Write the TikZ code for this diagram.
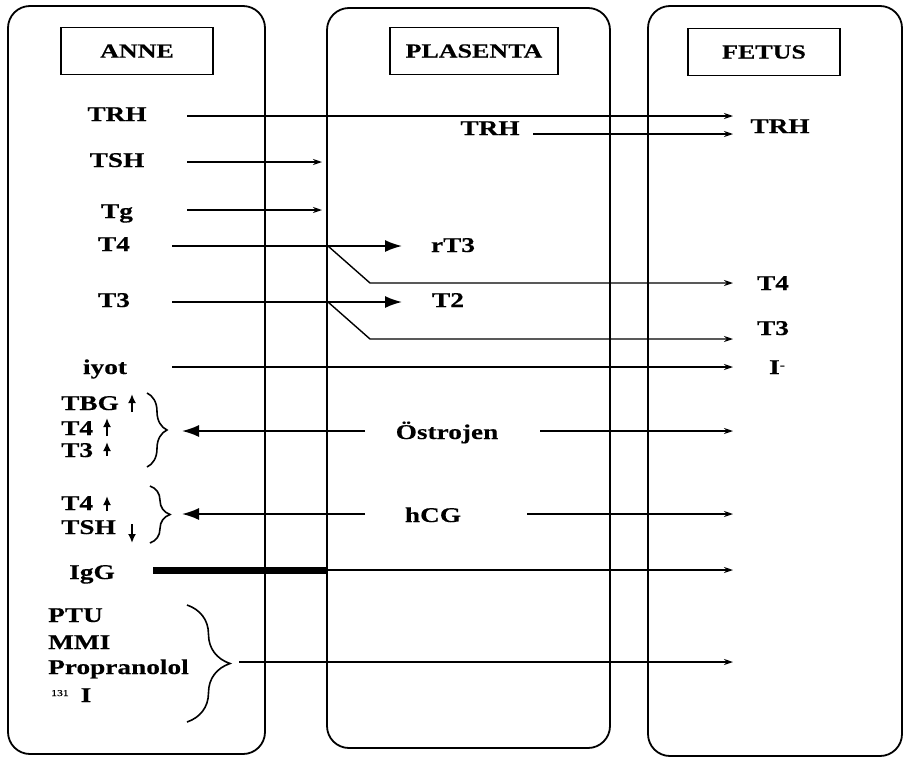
\documentclass[tikz,border=0pt]{standalone}
\usepackage{fontspec}
\setmainfont{Liberation Serif}[FakeStretch=1.3,FakeBold=0.4]
\usetikzlibrary{arrows.meta,decorations.pathreplacing}
\begin{document}
\begin{tikzpicture}[x=1pt,y=-1pt,
 panel/.style={draw,line width=1.8pt,rounded corners=22pt},
 titlebox/.style={draw,line width=1.5pt,minimum width=152pt,minimum height=47pt,inner sep=0pt,font=\fontsize{20}{22}\selectfont\bfseries},
 lbl/.style={font=\fontsize{21}{23}\selectfont\bfseries,inner sep=0pt,text height=14pt,text depth=0pt},
 conn/.style={line width=1.4pt,-{Stealth[length=9pt,width=6pt]}},
 bigconn/.style={line width=1.7pt,-{Latex[length=17pt,width=12pt]}},
 plainline/.style={line width=1.4pt},
 brc/.style={decorate,decoration={brace,amplitude=#1},line width=1.6pt},
 vup/.style={line width=2pt,-{Latex[length=9pt,width=8pt]}}
]
\useasboundingbox (0,0) rectangle (904,758);
\begin{scope}
\clip (0,0) rectangle (904,758);
% panels
\draw[panel] (8,6) rectangle (265,754);
\draw[panel] (327,8) rectangle (610,748);
\draw[panel] (648,6) rectangle (902,756);
\end{scope}
% titles
\node[titlebox] (anne) at (137,51) {ANNE};
\node[titlebox,minimum width=168pt] (plas) at (474,51) {PLASENTA};
\node[titlebox] (fet) at (764,52) {FETUS};
% mother labels
\node[lbl] (aTRH) at (117,114) {TRH};
\node[lbl] (aTSH) at (117,160) {TSH};
\node[lbl] (aTg) at (117,211) {Tg};
\node[lbl] (aT4) at (114,244) {T4};
\node[lbl] (aT3) at (114,300) {T3};
\node[lbl] (aiyot) at (105,367) {iyot};
\node[lbl,anchor=west] (tbg) at (61,403) {TBG};
\node[lbl,anchor=west] (t4a) at (61,428) {T4};
\node[lbl,anchor=west] (t3a) at (61,450) {T3};
\node[lbl,anchor=west] (t4b) at (61,503) {T4};
\node[lbl,anchor=west] (tshb) at (61,527) {TSH};
\node[lbl] (igg) at (92,572) {IgG};
\node[lbl,anchor=west] (ptu) at (48,615) {PTU};
\node[lbl,anchor=west] (mmi) at (48,642) {MMI};
\node[lbl,anchor=west] (prop) at (48,667) {Propranolol};
\node[lbl,anchor=west] (iod) at (51,695) {\raisebox{6pt}{\fontsize{9}{9}\selectfont\mdseries 131}\hspace{12pt}I};
% placenta labels
\node[lbl] (pTRH) at (490,128) {TRH};
\node[lbl] (prT3) at (453,245) {rT3};
\node[lbl] (pT2) at (448,300) {T2};
\node[lbl] (post) at (447,432) {Östrojen};
\node[lbl] (phcg) at (433,515) {hCG};
% fetus labels
\node[lbl] (fTRH) at (780,126) {TRH};
\node[lbl] (fT4) at (773,283) {T4};
\node[lbl] (fT3) at (773,328) {T3};
\node[lbl] (fI) at (777,367) {I\raisebox{5pt}{\fontsize{12}{12}\selectfont -}};
% coordinates
\coordinate (trhS) at (187,116); \coordinate (trhE) at (733,116);
\coordinate (ptrhS) at (533,134); \coordinate (ptrhE) at (733,134);
\coordinate (tshS) at (187,162); \coordinate (tshE) at (322,162);
\coordinate (tgS) at (187,210); \coordinate (tgE) at (322,210);
\coordinate (t4S) at (172,246); \coordinate (t4J) at (328,246); \coordinate (t4R) at (402,246);
\coordinate (t4K) at (370,283); \coordinate (t4E) at (733,283);
\coordinate (t3S) at (172,302); \coordinate (t3J) at (328,302); \coordinate (t3R) at (402,302);
\coordinate (t3K) at (370,339); \coordinate (t3E) at (733,339);
\coordinate (iyS) at (172,367); \coordinate (iyE) at (733,367);
\coordinate (osL) at (365,431); \coordinate (osT) at (182,431);
\coordinate (osR) at (540,431); \coordinate (osE) at (733,431);
\coordinate (hcL) at (365,514); \coordinate (hcT) at (182,514);
\coordinate (hcR) at (527,514); \coordinate (hcE) at (733,514);
\coordinate (igS) at (153,570); \coordinate (igJ) at (328,570); \coordinate (igE) at (733,570);
\coordinate (drS) at (239,662); \coordinate (drE) at (733,662);
% connectors
\draw[conn] (trhS) -- (trhE);
\draw[conn] (ptrhS) -- (ptrhE);
\draw[conn] (tshS) -- (tshE);
\draw[conn] (tgS) -- (tgE);
\draw[plainline] (t4S) -- (t4J);
\draw[bigconn] (t4J) -- (t4R);
\draw[conn] (t4J) -- (t4K) -- (t4E);
\draw[plainline] (t3S) -- (t3J);
\draw[bigconn] (t3J) -- (t3R);
\draw[conn] (t3J) -- (t3K) -- (t3E);
\draw[conn] (iyS) -- (iyE);
\draw[bigconn] (osL) -- (osT);
\draw[conn] (osR) -- (osE);
\draw[bigconn] (hcL) -- (hcT);
\draw[conn] (hcR) -- (hcE);
\draw[line width=7pt] (igS) -- (igJ);
\draw[conn] (igJ) -- (igE);
\draw[conn] (drS) -- (drE);
% braces
\coordinate (b1a) at (147,393); \coordinate (b1b) at (147,467);
\coordinate (b2a) at (150,486); \coordinate (b2b) at (150,543);
\coordinate (b3a) at (187,605); \coordinate (b3b) at (187,722);
\draw[brc=20pt] (b1a) -- (b1b);
\draw[brc=20pt] (b2a) -- (b2b);
\draw[brc=43pt] (b3a) -- (b3b);
% small up/down arrows
\coordinate (u1a) at (132,412); \coordinate (u1b) at (132,394);
\coordinate (u2a) at (107,436); \coordinate (u2b) at (107,418);
\coordinate (u3a) at (107,456); \coordinate (u3b) at (107,442);
\coordinate (u4a) at (107,511); \coordinate (u4b) at (107,496);
\coordinate (u5a) at (132,524); \coordinate (u5b) at (132,543);
\draw[vup] (u1a) -- (u1b);
\draw[vup] (u2a) -- (u2b);
\draw[vup] (u3a) -- (u3b);
\draw[vup] (u4a) -- (u4b);
\draw[vup] (u5a) -- (u5b);
\end{tikzpicture}
\end{document}
